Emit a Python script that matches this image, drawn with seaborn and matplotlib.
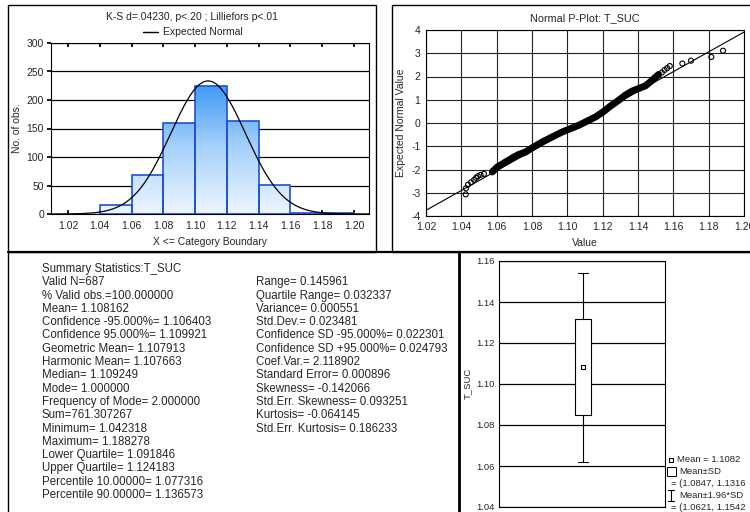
import numpy as np
import pandas as pd
import matplotlib
matplotlib.use("Agg")
import matplotlib.pyplot as plt
import seaborn as sns
from matplotlib.colors import LinearSegmentedColormap
from matplotlib.patches import Rectangle

# ---------------- data ----------------
bin_edges = [1.02, 1.04, 1.06, 1.08, 1.10, 1.12, 1.14, 1.16, 1.18, 1.20]
bin_counts = [0, 16, 69, 159, 225, 163, 51, 2, 2]
n_obs = 687
mean_val = 1.108162
sd_val = 0.023481

hist_xticks = [1.02, 1.04, 1.06, 1.08, 1.10, 1.12, 1.14, 1.16, 1.18, 1.20]
hist_yticks = [0, 50, 100, 150, 200, 250, 300]

# P-plot: sparse tail points (value, expected normal value)
tail_values = [1.0425, 1.0426, 1.0438, 1.0455, 1.0472, 1.0483, 1.0494, 1.0509, 1.0528, 1.0574,
               1.1535, 1.1550, 1.1565, 1.1580, 1.1651, 1.1700, 1.1815, 1.1881]
tail_z = [-3.07, -2.81, -2.65, -2.55, -2.45, -2.36, -2.29, -2.23, -2.19, -2.12,
          2.17, 2.28, 2.36, 2.45, 2.56, 2.68, 2.84, 3.11]
# P-plot: dense central band (value, expected normal value)
band_values = [1.0579, 1.0602, 1.0649, 1.0696, 1.0725, 1.0762, 1.0802, 1.0857, 1.0913, 1.0970,
               1.1008, 1.1064, 1.1121, 1.1159, 1.1202, 1.1243, 1.1291, 1.1328, 1.1366, 1.1404,
               1.1442, 1.1470, 1.1498, 1.1517]
band_z = [-2.075, -1.902, -1.686, -1.470, -1.354, -1.254, -1.066, -0.821, -0.605, -0.389,
          -0.274, -0.101, 0.115, 0.259, 0.476, 0.720, 0.980, 1.196, 1.369, 1.484,
          1.599, 1.772, 1.960, 2.089]
pp_xticks = [1.02, 1.04, 1.06, 1.08, 1.10, 1.12, 1.14, 1.16, 1.18, 1.20]
pp_yticks = [-4, -3, -2, -1, 0, 1, 2, 3, 4]

box_yticks = [1.04, 1.06, 1.08, 1.10, 1.12, 1.14, 1.16]

stats_left = ["Summary Statistics:T_SUC", "Valid N=687", "% Valid obs.=100.000000",
              "Mean= 1.108162", "Confidence -95.000%= 1.106403", "Confidence 95.000%= 1.109921",
              "Geometric Mean= 1.107913", "Harmonic Mean= 1.107663", "Median= 1.109249",
              "Mode= 1.000000", "Frequency of Mode= 2.000000", "Sum=761.307267",
              "Minimum= 1.042318", "Maximum= 1.188278", "Lower Quartile= 1.091846",
              "Upper Quartile= 1.124183", "Percentile 10.00000= 1.077316",
              "Percentile 90.00000= 1.136573"]
stats_right = ["Range= 0.145961", "Quartile Range= 0.032337", "Variance= 0.000551",
               "Std.Dev.= 0.023481", "Confidence SD -95.000%= 0.022301",
               "Confidence SD +95.000%= 0.024793", "Coef.Var.= 2.118902",
               "Standard Error= 0.000896", "Skewness= -0.142066",
               "Std.Err. Skewness= 0.093251", "Kurtosis= -0.064145",
               "Std.Err. Kurtosis= 0.186233"]

# ---------------- style ----------------
sns.set_theme(style="white")
plt.rcParams['font.family'] = ['Liberation Sans', 'DejaVu Sans']
plt.rcParams['axes.edgecolor'] = 'black'
plt.rcParams['axes.linewidth'] = 0.8
plt.rcParams['axes.unicode_minus'] = False
FS = 7.5
SFS = 8.3
W, H = 750, 512

fig = plt.figure(figsize=(7.5, 5.12), dpi=100)
fig.patch.set_facecolor('white')

def fax(l, t, r, b):
    return [l / W, 1 - b / H, (r - l) / W, (b - t) / H]

# overlay for frames and free text (pixel coords)
ov = fig.add_axes([0, 0, 1, 1])
ov.set_xlim(0, W)
ov.set_ylim(H, 0)
ov.axis('off')
ov.patch.set_alpha(0)

ov.add_patch(Rectangle((8, 5), 368, 247, fill=False, ec='black', lw=1.0))
ov.add_patch(Rectangle((392, 5), 380, 247, fill=False, ec='black', lw=1.0))
ov.plot([8, 760], [252, 252], color='black', lw=1.6)
ov.plot([8, 8], [252, 520], color='black', lw=1.0)
ov.plot([459, 459], [252, 520], color='black', lw=2.0)

# ---------------- histogram ----------------
ax1 = fig.add_axes(fax(51, 43, 369, 214))
centers = [(a + b) / 2 for a, b in zip(bin_edges[:-1], bin_edges[1:])]
dfh = pd.DataFrame({"x": centers, "w": bin_counts})
sns.histplot(data=dfh, x="x", weights="w", bins=list(bin_edges), ax=ax1, stat="count",
             edgecolor='#1f50d6', linewidth=1.2, facecolor='none', alpha=1)
cmap = LinearSegmentedColormap.from_list("g", ["#eef6ff", "#a6d1fb", "#3594f6"])
grad = np.linspace(0, 1, 256).reshape(-1, 1)
for p in list(ax1.patches):
    if p.get_height() <= 0:
        p.set_visible(False)
        continue
    p.set_facecolor('none')
    p.set_zorder(2)
    x0 = p.get_x()
    im = ax1.imshow(grad, extent=[x0, x0 + p.get_width(), 0, 235], origin='lower',
                    aspect='auto', cmap=cmap, zorder=1.5, interpolation='bilinear')
    im.set_clip_path(p)
xs = np.linspace(1.01, 1.21, 400)
ys = n_obs * 0.02 * np.exp(-0.5 * ((xs - mean_val) / sd_val) ** 2) / (sd_val * np.sqrt(2 * np.pi))
sns.lineplot(x=xs, y=ys, ax=ax1, color='black', lw=0.9, zorder=3)
ax1.set_xlim(1.0093, 1.2094)
ax1.set_ylim(0, 300)
ax1.set_xticks(hist_xticks)
ax1.set_xticklabels([f"{v:.2f}" for v in hist_xticks])
ax1.set_yticks(hist_yticks)
ax1.yaxis.grid(True, color='black', lw=0.9)
ax1.set_axisbelow(True)
ax1.tick_params(axis='x', direction='in', top=True, bottom=True, length=3, labelsize=FS, pad=5, color='black')
ax1.tick_params(axis='y', direction='out', left=True, length=3, labelsize=FS, pad=2, color='black')
ax1.set_xlabel("")
ax1.set_ylabel("")
for s in ax1.spines.values():
    s.set_color('black')

ov.text(192, 17, "K-S d=.04230, p<.20 ; Lilliefors p<.01", ha='center', va='center', fontsize=FS)
ov.plot([143, 158], [32, 32], color='black', lw=1.0)
ov.text(163, 32, "Expected Normal", ha='left', va='center', fontsize=FS)
ov.text(17, 128, "No. of obs.", ha='center', va='center', rotation=90, fontsize=FS)
ov.text(210, 242, "X <= Category Boundary", ha='center', va='center', fontsize=FS)

# ---------------- normal probability plot ----------------
ax2 = fig.add_axes(fax(426, 30, 744, 216))
ax2.set_xlim(1.02, 1.20)
ax2.set_ylim(-4, 4)
ax2.set_xticks(pp_xticks)
ax2.set_xticklabels([f"{v:.2f}" for v in pp_xticks])
ax2.set_yticks(pp_yticks)
ax2.grid(True, color='#222222', lw=0.8)
ax2.set_axisbelow(True)
line_x = np.array([1.02, 1.20])
sns.lineplot(x=line_x, y=(line_x - mean_val) / sd_val, ax=ax2, color='black', lw=0.8, zorder=2)
ax2.plot(band_values, band_z, color='black', lw=5.0, solid_capstyle='round',
         solid_joinstyle='round', zorder=3)
all_v = tail_values + band_values
all_z = tail_z + band_z
sns.scatterplot(x=all_v, y=all_z, ax=ax2, marker='o', s=13, facecolors='none',
                edgecolor='black', linewidth=0.8, zorder=4)
ax2.tick_params(axis='both', length=0, labelsize=FS, pad=4)
for s in ax2.spines.values():
    s.set_color('black')
ov.text(585, 18, "Normal P-Plot: T_SUC", ha='center', va='center', fontsize=7.8)
ov.text(585, 243, "Value", ha='center', va='center', fontsize=FS)
ov.text(401, 123, "Expected Normal Value", ha='center', va='center', rotation=90, fontsize=FS)

# ---------------- summary statistics text ----------------
y0, dy = 269, 13.3
for i, t in enumerate(stats_left):
    ov.text(42, y0 + i * dy, t, ha='left', va='center', fontsize=SFS)
for i, t in enumerate(stats_right):
    ov.text(256, y0 + (i + 1) * dy, t, ha='left', va='center', fontsize=SFS)

# ---------------- box plot (mean, SD, 1.96*SD) ----------------
ax3 = fig.add_axes(fax(499, 261, 665, 507))
ax3.set_xlim(0, 1)
ax3.set_ylim(1.04, 1.16)
ax3.set_yticks(box_yticks)
ax3.set_yticklabels([f"{v:.2f}" for v in box_yticks])
ax3.set_xticks([])
ax3.yaxis.grid(True, color='black', lw=0.9)
ax3.set_axisbelow(True)
xc = 0.506
lo1, hi1 = mean_val - sd_val, mean_val + sd_val
lo2, hi2 = mean_val - 1.96 * sd_val, mean_val + 1.96 * sd_val
ax3.plot([xc, xc], [hi1, hi2], color='black', lw=0.8, zorder=2)
ax3.plot([xc, xc], [lo2, lo1], color='black', lw=0.8, zorder=2)
ax3.plot([xc - 0.03, xc + 0.03], [hi2, hi2], color='black', lw=0.8, zorder=2)
ax3.plot([xc - 0.03, xc + 0.03], [lo2, lo2], color='black', lw=0.8, zorder=2)
ax3.add_patch(Rectangle((xc - 0.048, lo1), 0.096, hi1 - lo1, fc='white', ec='black', lw=0.8, zorder=3))
sns.scatterplot(x=[xc], y=[mean_val], ax=ax3, marker='s', s=9, facecolors='white',
                edgecolor='black', linewidth=0.8, zorder=4)
ax3.tick_params(axis='y', length=0, labelsize=6.8, pad=3)
for s in ax3.spines.values():
    s.set_color('black')
ov.text(467, 383, "T_SUC", ha='center', va='center', rotation=90, fontsize=6.8)

# legend of box plot
LFS = 6.8
ov.add_patch(Rectangle((669, 458), 3.5, 3.5, fill=False, ec='black', lw=0.8))
ov.text(677, 460, f"Mean = {mean_val:.4f}", ha='left', va='center', fontsize=LFS)
ov.add_patch(Rectangle((667, 467), 9, 9, fill=False, ec='black', lw=0.7))
ov.text(679, 472, "Mean±SD", ha='left', va='center', fontsize=LFS)
ov.text(671, 483.5, f"= ({lo1:.4f}, {hi1:.4f}", ha='left', va='center', fontsize=LFS)
ov.plot([671, 671], [490, 501], color='black', lw=0.8)
ov.plot([668, 674], [490, 490], color='black', lw=0.8)
ov.plot([668, 674], [501, 501], color='black', lw=0.8)
ov.text(679, 495.5, "Mean±1.96*SD", ha='left', va='center', fontsize=LFS)
ov.text(671, 507, f"= ({lo2:.4f}, {hi2:.4f}", ha='left', va='center', fontsize=LFS)

fig.savefig("out.png", dpi=100, facecolor='white')
